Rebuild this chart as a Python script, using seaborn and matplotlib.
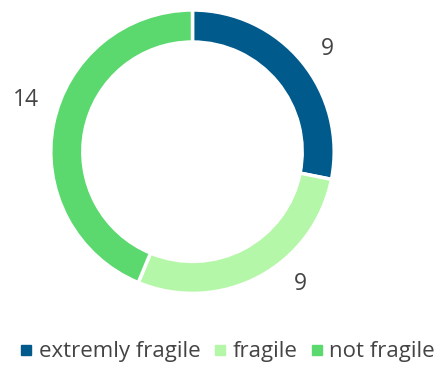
import matplotlib
matplotlib.use("Agg")
import numpy as np
import matplotlib.pyplot as plt
from matplotlib.lines import Line2D
import seaborn as sns

categories = ["extremly fragile", "fragile", "not fragile"]
counts = [9, 9, 14]
colors = sns.color_palette(["#005a8c", "#b5f7a8", "#5bd86e"])

sns.set_theme(style="white")
plt.rcParams["font.family"] = ["Open Sans", "DejaVu Sans"]
text_color = "#444444"

W, H = 438, 365
fig = plt.figure(figsize=(W / 100, H / 100), dpi=100)

# donut centre and outer radius in pixels
cx, cy, r_px = 192.5, 151.7, 141.7
half = 190
ax = fig.add_axes([(cx - half) / W, (H - cy - half) / H, 2 * half / W, 2 * half / H])
lim = half / r_px

wedges, _ = ax.pie(
    counts,
    colors=colors,
    startangle=90,
    counterclock=False,
    radius=1.0,
    wedgeprops=dict(width=0.226, edgecolor="white", linewidth=2.5),
    frame=True,
)
ax.set_xlim(-lim, lim)
ax.set_ylim(-lim, lim)
ax.set_aspect("equal")
ax.axis("off")

# value labels just outside each slice, nudged to sit clear of the ring
label_radius = 1.18
nudges = [(0.037, -0.021), (0.203, 0.107), (-0.018, 0.135)]
for w, c, (nx, ny) in zip(wedges, counts, nudges):
    mid = np.deg2rad((w.theta1 + w.theta2) / 2)
    x = label_radius * np.cos(mid) + nx
    y = label_radius * np.sin(mid) + ny
    ax.text(x, y, str(c), ha="center", va="center", fontsize=16.5, color=text_color)

handles = [Line2D([], [], marker="s", linestyle="none", markersize=6.5,
                  markerfacecolor=c, markeredgecolor=c) for c in colors]
fig.legend(handles, categories, loc="center", bbox_to_anchor=(0.521, (H - 352) / H),
           ncol=3, frameon=False, fontsize=16, handlelength=0.4,
           handletextpad=0.36, columnspacing=0.68, labelcolor=text_color,
           borderaxespad=0, borderpad=0)

fig.savefig("out.png", dpi=100, facecolor="white")
